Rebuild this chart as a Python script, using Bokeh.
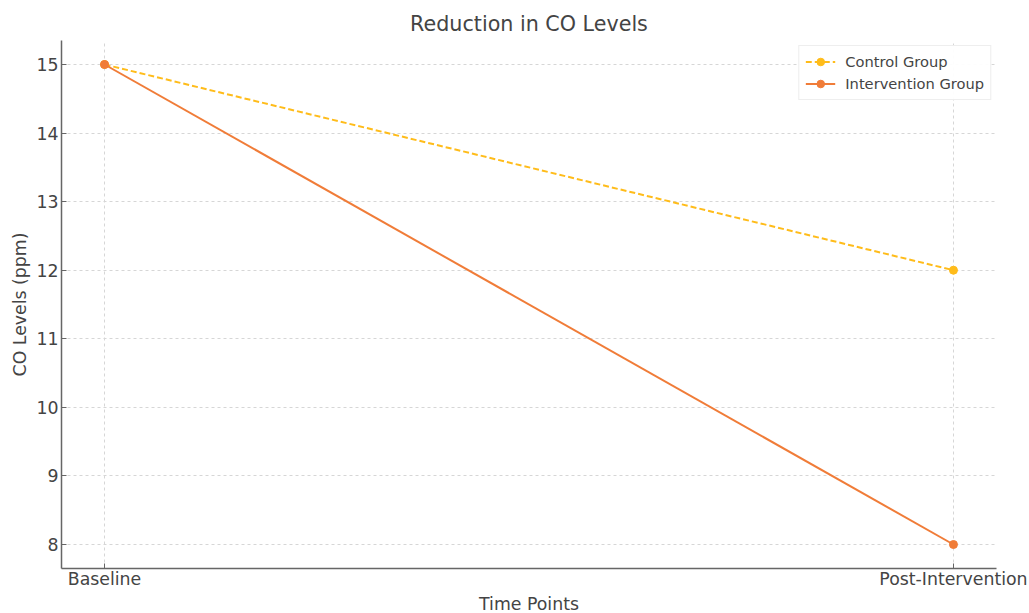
from bokeh.plotting import figure
from bokeh.models import FixedTicker, Range1d, Legend, LegendItem, Title
from bokeh.embed import file_html
from bokeh.resources import INLINE

time_points = ["Baseline", "Post-Intervention"]
control_group = [15, 12]
intervention_group = [15, 8]
y_ticks = [8, 9, 10, 11, 12, 13, 14, 15]

xs = list(range(len(time_points)))
FONT = "DejaVu Sans"

p = figure(width=1029, height=613, output_backend="svg", toolbar_location=None,
           x_range=Range1d(-0.0507, 1.0507), y_range=Range1d(7.65, 15.35),
           min_border_left=61, min_border_right=33, min_border_top=40, min_border_bottom=45)

p.title.text = "Reduction in CO Levels"
p.title.align = "center"
p.title.text_font = FONT
p.title.text_font_style = "normal"
p.title.text_font_size = "15.5pt"
p.title.text_color = "#444444"
p.title.offset = 0

c1 = "#FFBC1A"
c2 = "#F07C38"
l1 = p.line(xs, control_group, line_color=c1, line_width=2, line_dash="6 3")
s1 = p.scatter(xs, control_group, size=8, fill_color=c1, line_color=c1)
l2 = p.line(xs, intervention_group, line_color=c2, line_width=2)
s2 = p.scatter(xs, intervention_group, size=8, fill_color=c2, line_color=c2)

legend = Legend(items=[LegendItem(label="Control Group", renderers=[l1, s1]),
                       LegendItem(label="Intervention Group", renderers=[l2, s2])],
                location="top_right")
legend.label_text_font = FONT
legend.label_text_font_size = "11pt"
legend.label_text_color = "#444444"
legend.border_line_color = "#dddddd"
legend.border_line_width = 1
legend.padding = 6
legend.spacing = 3
legend.margin = 5
legend.glyph_width = 30
legend.label_standoff = 10
legend.label_height = 19
legend.glyph_height = 19
p.add_layout(legend)

p.xaxis.ticker = FixedTicker(ticks=xs)
p.xaxis.major_label_overrides = {i: t for i, t in enumerate(time_points)}
p.yaxis.ticker = FixedTicker(ticks=y_ticks)
p.yaxis.axis_label = "CO Levels (ppm)"

xtitle = Title(text="Time Points", align="center", text_font=FONT,
               text_font_size="13pt", text_font_style="normal",
               text_color="#444444", standoff=0, offset=0)
p.add_layout(xtitle, "below")

for ax in (p.xaxis, p.yaxis):
    ax.axis_label_text_font = FONT
    ax.axis_label_text_font_style = "normal"
    ax.axis_label_text_font_size = "13pt"
    ax.axis_label_text_color = "#444444"
    ax.major_label_text_font = FONT
    ax.major_label_text_font_size = "13pt"
    ax.major_label_text_color = "#444444"
    ax.axis_line_color = "#666666"
    ax.axis_line_width = 1.5
    ax.major_tick_line_color = "#666666"
    ax.major_tick_in = 5
    ax.major_tick_out = 0
    ax.minor_tick_line_color = None
    ax.axis_label_standoff = 3

p.yaxis.major_label_standoff = 3
p.xaxis.major_label_standoff = 0

p.grid.grid_line_color = "#d6d6d6"
p.grid.grid_line_dash = "3 3"
p.grid.grid_line_width = 1
p.outline_line_color = None

open("out.html", "w").write(file_html(p, INLINE))
